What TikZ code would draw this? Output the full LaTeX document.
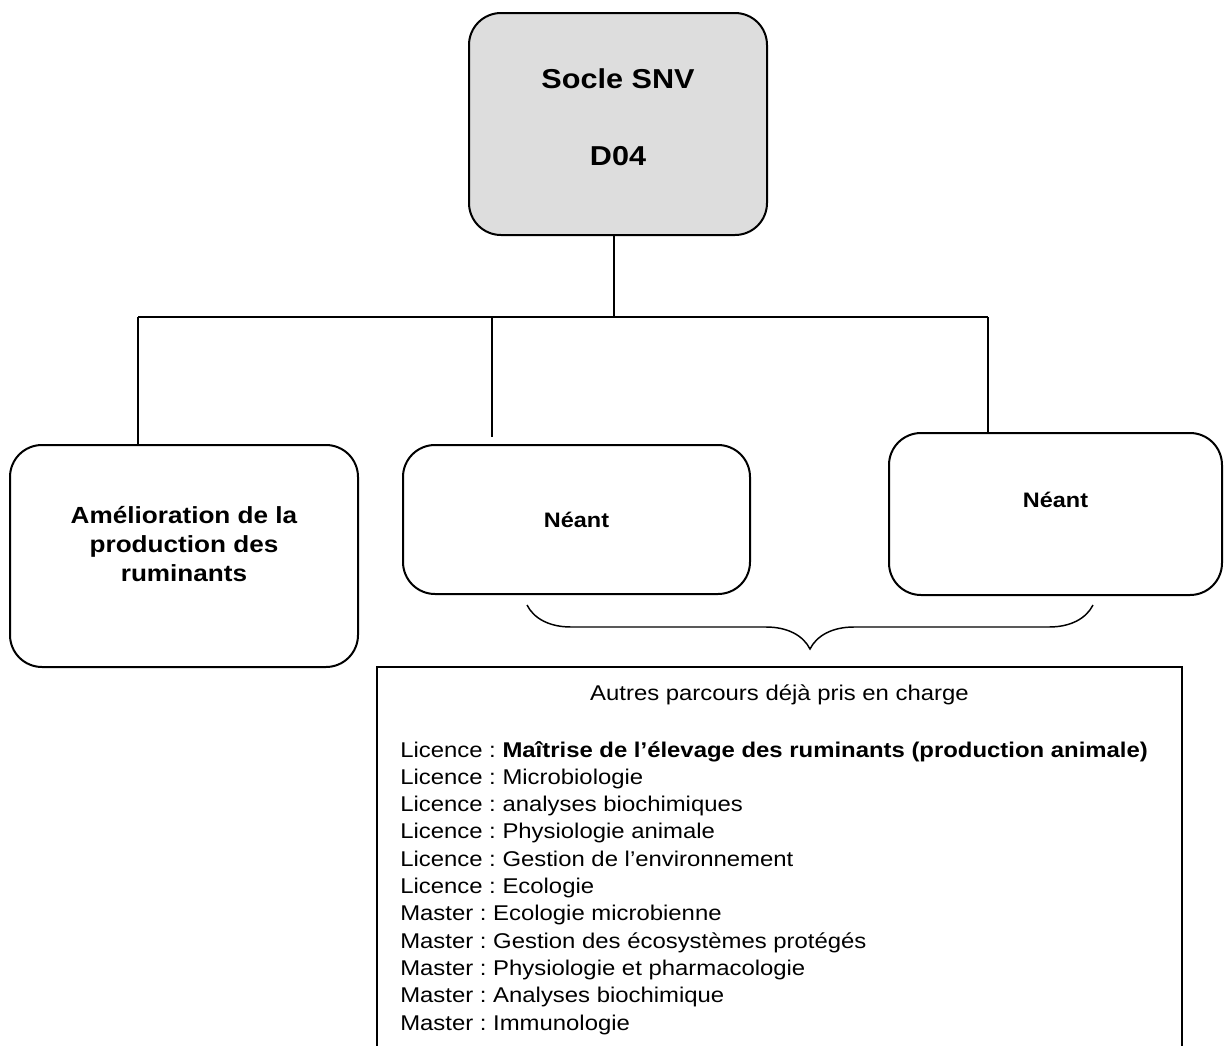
\documentclass[tikz,border=0pt]{standalone}
\usepackage{fontspec}
\setmainfont{Liberation Sans}[FakeStretch=1.12]
\frenchspacing
\usetikzlibrary{positioning,decorations.pathreplacing}
\definecolor{soclegray}{RGB}{221,221,221}
\tikzset{
  box/.style={draw, line width=1.5pt, rounded corners=24pt, inner sep=0pt, align=center},
  conn/.style={line width=1.1pt},
  brace/.style={line width=1.1pt, decorate, decoration={brace, mirror, amplitude=33pt}},
  listbox/.style={draw, line width=1.5pt, inner sep=0pt},
  item/.style={anchor=base west, inner sep=0pt, font=\fontsize{16}{20}\selectfont},
  neantfont/.style={font=\fontsize{15.7}{19}\selectfont\bfseries},
}
\begin{document}
\begin{tikzpicture}[x=0.75pt, y=-0.75pt]
  \clip (0,0) rectangle (1229,1046);
  % socle
  \node[box, fill=soclegray, minimum width=223.5pt, minimum height=166.5pt,
        font=\fontsize{20.5}{24}\selectfont\bfseries, text depth=10.5pt]
        (socle) at (618,124) {Socle SNV\\[34pt]D04};
  % parcours
  \node[box, minimum width=261pt, minimum height=166.5pt,
        font=\fontsize{17.5}{21.75}\selectfont\bfseries, text depth=18.8pt]
        (amelio) at (184,556) {Amélioration de la\\production des\\ruminants};
  \node[box, neantfont, minimum width=260.25pt, minimum height=111.75pt]
        (neantA) at (576.5,519.5) {Néant};
  \node[box, neantfont, minimum width=249.75pt, minimum height=121.5pt, text depth=21.8pt]
        (neantB) at (1055.5,514) {Néant};
  % liaisons
  \coordinate (hub) at (614,317);
  \coordinate (jL) at (138,317);
  \coordinate (jM) at (492,317);
  \coordinate (jR) at (988,317);
  \coordinate (jMend) at (492,437);
  \draw[conn] (socle.south -| hub) -- (hub);
  \draw[conn] (jL) -- (jR);
  \draw[conn] (jL) -- (jL |- amelio.north);
  \draw[conn] (jM) -- (jMend);
  \draw[conn] (jR) -- (jR |- neantB.north);
  % accolade
  \coordinate (brL) at (527,605);
  \coordinate (brR) at (1093,605);
  \draw[brace] (brL) -- (brR);
  % autres parcours
  \node[listbox, minimum width=603.75pt, minimum height=294.75pt] (autres) at (779.5,863.5) {};
  \node[item, anchor=base] (titre) at (779.5,700) {Autres parcours déjà pris en charge};
  \foreach \txt [count=\i from 0] in {
      {Licence : \textbf{Maîtrise de l’élevage des ruminants (production animale)}},
      {Licence : Microbiologie},
      {Licence : analyses biochimiques},
      {Licence : Physiologie animale},
      {Licence : Gestion de l’environnement},
      {Licence : Ecologie},
      {Master : Ecologie microbienne},
      {Master : Gestion des écosystèmes protégés},
      {Master : Physiologie et pharmacologie},
      {Master : Analyses biochimique},
      {Master : Immunologie}}
    \node[item] (item\i) at (400,{757+27.3*\i}) {\txt};
\end{tikzpicture}
\end{document}
